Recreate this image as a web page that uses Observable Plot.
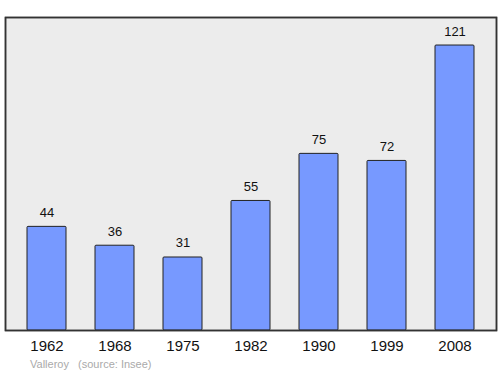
<!DOCTYPE html>
<html>
<head>
<meta charset="utf-8">
<script src="https://cdn.jsdelivr.net/npm/d3@7"></script>
<script src="https://cdn.jsdelivr.net/npm/@observablehq/plot@0.6"></script>
<style>
  body { margin: 0; background: #fff; font-family: "Liberation Sans", Arial, sans-serif; }
  #caption { font-size: 11px; color: #aaa; margin-left: 30px; margin-top: 3px; white-space: pre; }
</style>
</head>
<body>
<div id="chart"></div>
<div id="caption">Valleroy   (source: Insee)</div>
<script>
const years = ["1962", "1968", "1975", "1982", "1990", "1999", "2008"];
const population = [44, 36, 31, 55, 75, 72, 121];

const data = years.map((y, i) => ({year: y, value: population[i]}));

const chart = Plot.plot({
  width: 500,
  height: 355,
  marginLeft: 5,
  marginRight: 4,
  marginTop: 17,
  marginBottom: 25,
  style: {fontFamily: "Liberation Sans, Arial, sans-serif", background: "#fff"},
  x: {domain: years, paddingInner: 0.43, paddingOuter: 0.307, label: null},
  y: {domain: [0, 132.9], axis: null},
  marks: [
    Plot.frame({fill: "#ececec", stroke: "#333", strokeWidth: 1.5}),
    Plot.barY(data, {x: "year", y: "value", fill: "#7799ff", stroke: "#222", strokeWidth: 1, rx: 1}),
    Plot.text(data, {x: "year", y: "value", text: d => String(d.value), lineAnchor: "bottom", dy: -10, fontSize: 13, fill: "#111"}),
    Plot.axisX({tickSize: 0, tickPadding: 10, fontSize: 15, label: null, color: "#111"}),
    Plot.frame({stroke: "#333", strokeWidth: 1.5})
  ]
});
document.getElementById("chart").appendChild(chart);
</script>
</body>
</html>
